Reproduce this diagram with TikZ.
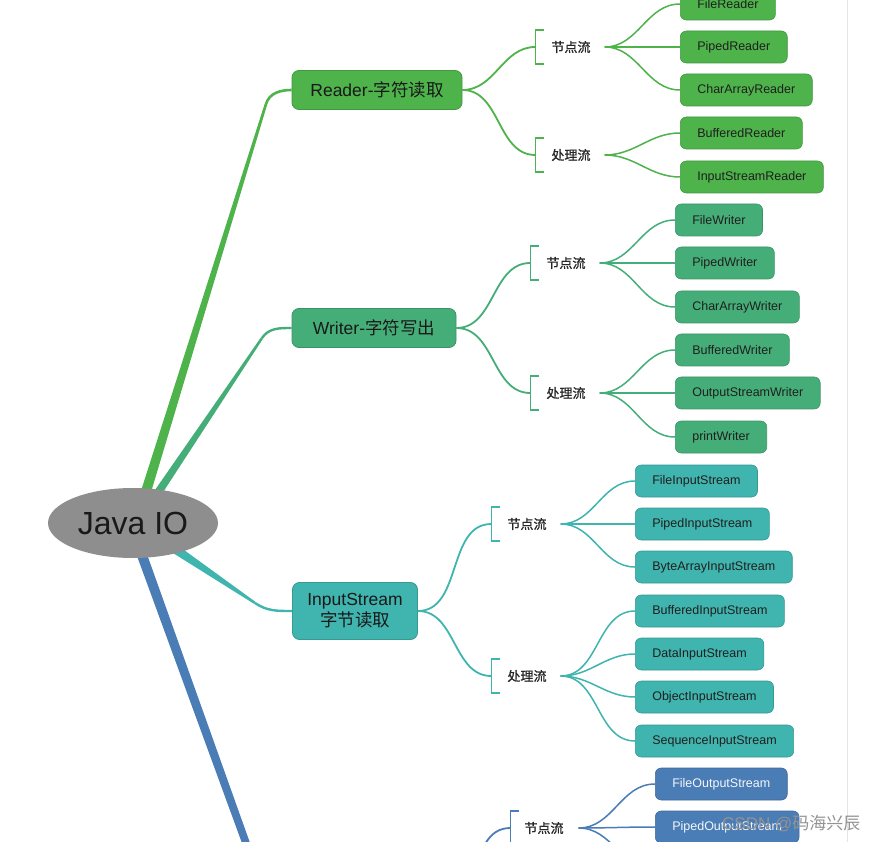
\documentclass[tikz,border=0pt]{standalone}
\usepackage{fontspec}
\setmainfont{Liberation Sans}
\newfontfamily\cjk{Noto Sans CJK SC}
\newfontfamily\cjkheavy[FakeBold=1]{Noto Sans CJK SC}
\usetikzlibrary{shapes.geometric,calc,backgrounds}
\definecolor{rootgray}{HTML}{8E8E8E}
\definecolor{rdgreen}{HTML}{4DB34A}
\definecolor{wrgreen}{HTML}{45AE78}
\definecolor{isteal}{HTML}{40B4AE}
\definecolor{osblue}{HTML}{4A7CB6}
\definecolor{rulegray}{HTML}{E4E4E4}
\definecolor{markgray}{HTML}{939393}
\begin{document}
\begin{tikzpicture}[x=1pt,y=1pt,
 topic/.style={rounded corners=7pt,draw=#1!85!black,fill=#1,line width=0.8pt,text=black!90,inner xsep=0pt,minimum height=39pt,font=\fontsize{17.5}{21}\selectfont},
 leaf/.style={rounded corners=6pt,draw=#1!85!black,fill=#1,line width=0.6pt,text=black!88,inner xsep=17pt,minimum height=32pt,anchor=west,font=\fontsize{12.5}{15}\selectfont},
 kind/.style={inner sep=0pt,text=black!85,font=\cjkheavy\fontsize{13}{15}\selectfont},
 link/.style={draw=#1,line width=1.8pt},
 twig/.style={draw=#1,line width=1.5pt},
 bar/.style={draw=#1,line width=1.5pt}]
\useasboundingbox (0,0) rectangle (876,-842);
\clip (0,0) rectangle (876,-842);
\node[ellipse,fill=rootgray,minimum width=170pt,minimum height=70pt,inner sep=0pt,text=black!90,font=\fontsize{32}{36}\selectfont] (root) at (133,-523) {Java IO};
\node[topic=rdgreen,minimum width=170pt] (reader) at (377,-90) {Reader-{\cjk 字符读取}};
\node[topic=wrgreen,minimum width=164pt] (writer) at (374,-328) {Writer-{\cjk 字符写出}};
\node[topic=isteal,align=center,minimum width=125pt,minimum height=57pt] (instream) at (355,-611) {InputStream\\{\cjk 字节读取}};
\coordinate (outstream) at (438,-915);
\coordinate (rdb) at (266,-104); \coordinate (wrb) at (262,-338); \coordinate (isb) at (255,-603); \coordinate (osb) at (272,-915);
\begin{scope}[on background layer]
\clip (0,0) rectangle (876,-842); \fill[white] (0,0) rectangle (876,-842);
\foreach \a/\b/\w/\v/\c in {root.68/rdb/5/1.3/rdgreen,root.51/wrb/4/1.2/wrgreen,root.-32/isb/4.5/1.2/isteal,root.-74/osb/5/3.5/osblue}{
 \coordinate (s) at ($(\a)!-6pt!(\b)$);
 \fill[\c] ($(s)!\w pt!90:(\b)$) -- ($(\b)!\v pt!-90:(s)$) -- ($(\b)!\v pt!90:(s)$) -- ($(s)!\w pt!-90:(\b)$) -- cycle;}
\end{scope}
\draw[link=rdgreen,line width=2.6pt] (rdb) to[out=73,in=180] (reader.west);
\draw[link=wrgreen,line width=2.4pt] (wrb) to[out=56,in=180] (writer.west);
\draw[link=isteal,line width=2.4pt] (isb) to[out=-34,in=180] (instream.west);
% Reader
\foreach \k/\y/\t in {1/47/节点流,2/155/处理流}{
 \node[kind] (rk\k) at (571,-\y) {\t};
 \coordinate (rb\k) at ($(rk\k.west)+(-16,0)$); \coordinate (rf\k) at ($(rk\k.east)+(14,0)$);
 \draw[link=rdgreen] (reader.east) to[out=0,in=180] (rb\k);
 \draw[bar=rdgreen] ($(rb\k)+(9,17)$) -- ++(-9,0) -- ++(0,-34) -- ++(9,0);}
\foreach \n/\y/\k/\t in {1/4/1/FileReader,2/47/1/PipedReader,3/90/1/CharArrayReader,4/133/2/BufferedReader,5/177/2/InputStreamReader}{
 \node[leaf=rdgreen] (rl\n) at (680,-\y) {\t}; \draw[twig=rdgreen] (rf\k) to[out=0,in=180] (rl\n.west);}
% Writer
\foreach \k/\y/\t in {1/263/节点流,2/393/处理流}{
 \node[kind] (wk\k) at (566,-\y) {\t};
 \coordinate (wb\k) at ($(wk\k.west)+(-16,0)$); \coordinate (wf\k) at ($(wk\k.east)+(14,0)$);
 \draw[link=wrgreen] (writer.east) to[out=0,in=180] (wb\k);
 \draw[bar=wrgreen] ($(wb\k)+(9,17)$) -- ++(-9,0) -- ++(0,-34) -- ++(9,0);}
\foreach \n/\y/\k/\t in {1/220/1/FileWriter,2/263/1/PipedWriter,3/307/1/CharArrayWriter,4/350/2/BufferedWriter,5/393/2/OutputStreamWriter,6/437/2/printWriter}{
 \node[leaf=wrgreen] (wl\n) at (675,-\y) {\t}; \draw[twig=wrgreen] (wf\k) to[out=0,in=180] (wl\n.west);}
% InputStream
\foreach \k/\y/\t in {1/524/节点流,2/676/处理流}{
 \node[kind] (ik\k) at (527,-\y) {\t};
 \coordinate (ib\k) at ($(ik\k.west)+(-16,0)$); \coordinate (if\k) at ($(ik\k.east)+(14,0)$);
 \draw[link=isteal] (instream.east) to[out=0,in=180] (ib\k);
 \draw[bar=isteal] ($(ib\k)+(9,17)$) -- ++(-9,0) -- ++(0,-34) -- ++(9,0);}
\foreach \n/\y/\k/\t in {1/481/1/FileInputStream,2/524/1/PipedInputStream,3/567/1/ByteArrayInputStream,4/611/2/BufferedInputStream,5/654/2/DataInputStream,6/697/2/ObjectInputStream,7/741/2/SequenceInputStream}{
 \node[leaf=isteal] (il\n) at (635,-\y) {\t}; \draw[twig=isteal] (if\k) to[out=0,in=180] (il\n.west);}
% OutputStream
\node[kind] (ok1) at (544,-828) {节点流};
\coordinate (ob1) at ($(ok1.west)+(-14,0)$); \coordinate (of1) at ($(ok1.east)+(15,0)$);
\draw[link=osblue] (outstream) to[out=0,in=180] (ob1);
\draw[bar=osblue] ($(ob1)+(9,17)$) -- ++(-9,0) -- ++(0,-34) -- ++(9,0);
\foreach \n/\y/\t in {1/784/FileOutputStream,2/827/PipedOutputStream}{
 \node[leaf=osblue,text=white!94!osblue] (ol\n) at (655,-\y) {\t}; \draw[twig=osblue] (of1) to[out=0,in=180] (ol\n.west);}
\coordinate (ol3) at (655,-870); \draw[twig=osblue] (of1) to[out=0,in=180] (ol3);
\draw[rulegray,line width=1pt] (847,0) -- (847,-842);
\node[anchor=west,inner sep=0pt,text=markgray,font=\fontsize{17}{20}\selectfont] (mark) at (722,-824) {CSDN @{\cjk 码海兴辰}};
\end{tikzpicture}
\end{document}
